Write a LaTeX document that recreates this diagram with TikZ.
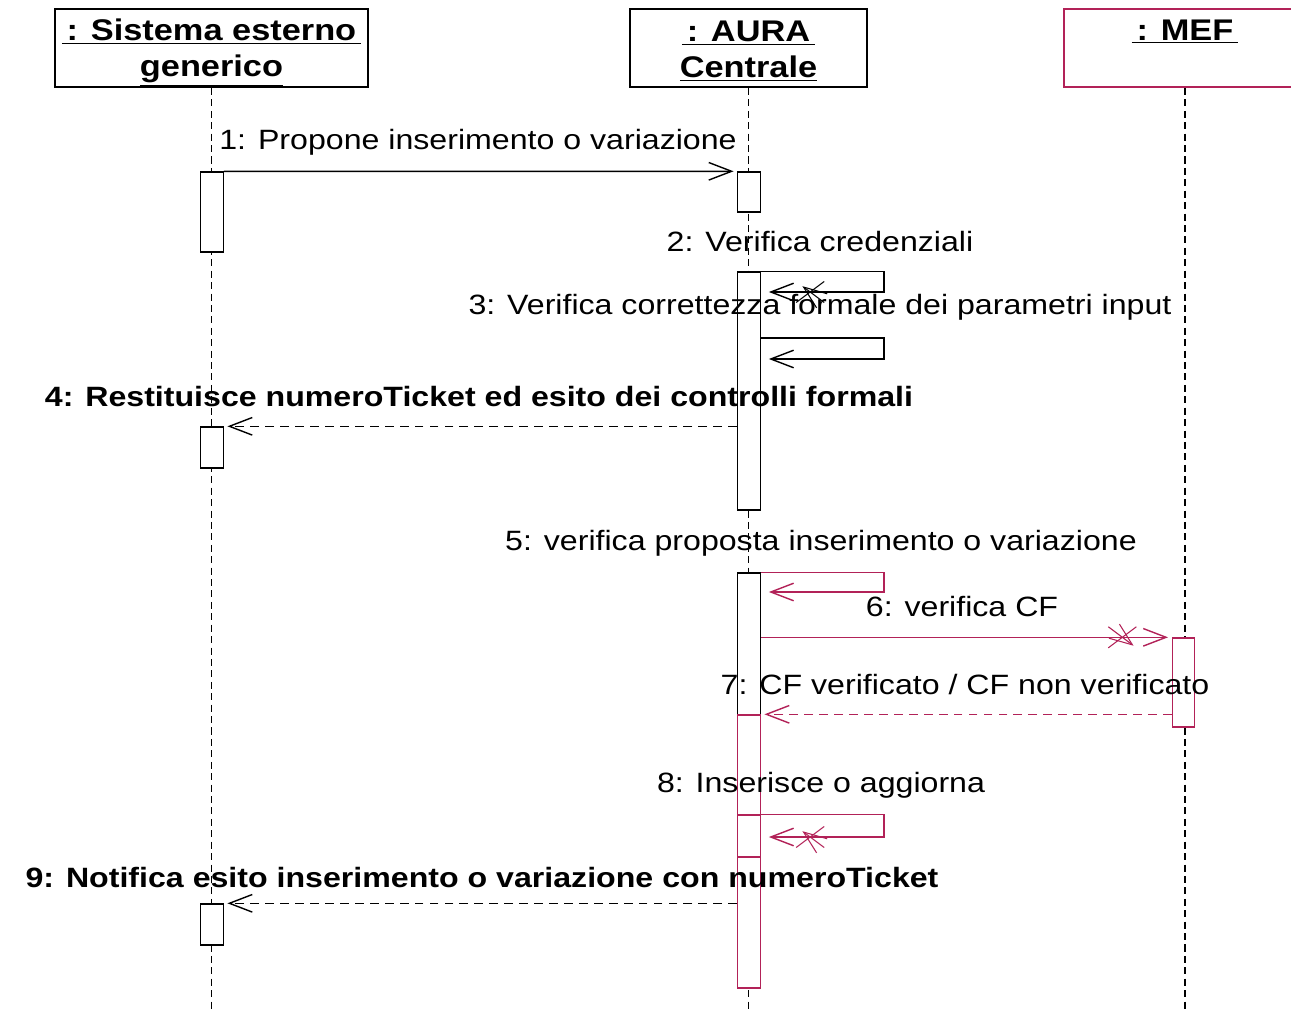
\documentclass[tikz,border=0pt]{standalone}
\usepackage{fontspec}
\setmainfont{Liberation Sans}[FakeStretch=1.15]
\usetikzlibrary{arrows.meta, decorations.markings}
\definecolor{rosered}{RGB}{178, 34, 88}
\tikzset{
  hdr/.style={draw, line width=1.1pt, minimum height=1.56cm, inner sep=0pt, align=center, font=\fontsize{17pt}{20.4pt}\selectfont\bfseries},
  life/.style={line width=0.8pt, dash pattern=on 4pt off 2.5pt},
  act/.style={draw, fill=white, line width=0.8pt, minimum width=0.45cm, inner sep=0pt},
  lbl/.style={inner sep=0pt, font=\fontsize{15.9pt}{19pt}\selectfont},
  boldlbl/.style={lbl, font=\fontsize{15.9pt}{19pt}\selectfont\bfseries},
  msg/.style={line width=0.8pt, -{Straight Barb[length=13pt, width=10pt]}, shorten >=2pt},
  reply/.style={msg, dash pattern=on 5pt off 3.5pt},
  balk/.style={postaction={decorate, decoration={markings, mark=at position -28pt with {\draw[solid, line width=0.6pt, #1] (-8pt,-6pt) -- (8pt,6pt) (-8pt,6pt) -- (8pt,-6pt);}}}}
}

\begin{document}
\begin{tikzpicture}[x=0.02cm, y=-0.02cm]
  \useasboundingbox (0,0) rectangle (1291,1010);
  \coordinate (bot) at (0,1010);

  % Objects
  \node[hdr, minimum width=6.26cm] (ext) at (211.5,48) {\rule{0pt}{18pt}\underline{\,: Sistema esterno\,}\\\underline{generico}};
  \node[hdr, minimum width=4.74cm] (aura) at (748.5,48) {\rule{0pt}{15pt}\underline{\,: AURA\,}\\\underline{Centrale}};
  \node[hdr, draw=rosered, minimum width=4.84cm] (mef) at (1185,48) {\underline{\,: MEF\,}\\\mbox{}};

  % Lifelines
  \draw[life] (ext.south) -- (ext.south |- bot);
  \draw[life] (aura.south) -- (aura.south |- bot);
  \draw[life] (mef.south) -- (mef.south |- bot);

  % Activations
  \node[act, minimum height=1.6cm] (s1) at (212,212) {};
  \node[act, minimum height=0.82cm] (s2) at (212,447.5) {};
  \node[act, minimum height=0.82cm] (s3) at (212,924.5) {};
  \node[act, minimum height=0.8cm] (a1) at (749,192) {};
  \node[act, minimum height=4.76cm] (a2) at (749,391) {};
  \node[act, minimum height=2.84cm] (a3) at (749,644) {};
  \node[act, draw=rosered, minimum height=2cm] (a4) at (749,765) {};
  \node[act, draw=rosered, minimum height=0.84cm] (a5) at (749,836) {};
  \node[act, draw=rosered, minimum height=2.62cm] (a6) at (749,922.5) {};
  \node[act, draw=rosered, minimum height=1.78cm] (m1) at (1183.5,682.5) {};

  \coordinate (y2) at (0,292);
  \coordinate (y3a) at (0,338);
  \coordinate (y3b) at (0,359);
  \coordinate (y5) at (0,592);
  \coordinate (y8) at (0,837);

  % 1
  \draw[msg] (s1.north east) -- (a1.north west);
  \node[lbl] (l1) at (478,142) {1: Propone inserimento o variazione};
  % 2
  \draw[msg, balk=black, shorten >=4.5pt] (a2.north east) -- ++(123,0) |- (a2.east |- y2);
  \node[lbl] (l2) at (820,242) {2: Verifica credenziali};
  % 3
  \draw[msg, shorten >=4.5pt] (a2.east |- y3a) -- ++(123,0) |- (a2.east |- y3b);
  \node[lbl] (l3) at (820,307) {3: Verifica correttezza formale dei parametri input};
  % 4
  \draw[reply] (a2.west |- s2.north) -- (s2.north east);
  \node[boldlbl] (l4) at (479,397) {4: Restituisce numeroTicket ed esito dei controlli formali};
  % 5
  \draw[msg, rosered, shorten >=4.5pt] (a3.north east) -- ++(123,0) |- (a3.east |- y5);
  \node[lbl] (l5) at (821,543) {5: verifica proposta inserimento o variazione};
  % 6
  \draw[msg, rosered, balk=rosered] (a3.east |- m1.north) -- (m1.north west);
  \node[lbl] (l6) at (962,607) {6: verifica CF};
  % 7
  \draw[reply, rosered] (m1.west |- a4.north) -- (a4.north east);
  \node[lbl] (l7) at (965,685) {7: CF verificato / CF non verificato};
  % 8
  \draw[msg, rosered, balk=rosered, shorten >=4.5pt] (a5.north east) -- ++(123,0) |- (a5.east |- y8);
  \node[lbl] (l8) at (821,785) {8: Inserisce o aggiorna};
  % 9
  \draw[reply] (a6.west |- s3.north) -- (s3.north east);
  \node[boldlbl] (l9) at (482,878) {9: Notifica esito inserimento o variazione con numeroTicket};
\end{tikzpicture}
\end{document}
